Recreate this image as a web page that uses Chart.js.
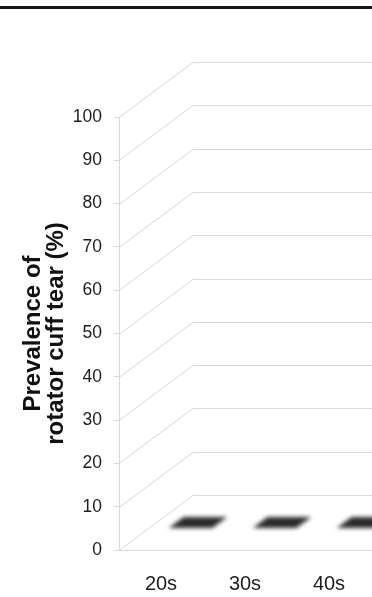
<!DOCTYPE html>
<html>
<head>
<meta charset="utf-8">
<script src="https://cdn.jsdelivr.net/npm/chart.js@4/dist/chart.umd.min.js"></script>
<style>
  html, body { margin: 0; padding: 0; background: #fff; overflow: hidden; }
  #rule { position: absolute; left: 0; top: 6px; width: 372px; height: 3px; background: #151515; }
  canvas { display: block; }
</style>
</head>
<body>
<div id="rule"></div>
<canvas id="chart" width="372" height="597"></canvas>
<script>
// Age groups and prevalence of rotator cuff tear (%)
const ageGroups = ['20s', '30s', '40s'];
const tearPrevalence = [0, 0, 0];
const yAxisTitle = ['Prevalence of', 'rotator cuff tear (%)'];

// Oblique projection used for the pseudo-3D walls and columns
const depth = { dx: 74, dy: -55, front: 0.4, back: 0.6 };
const gridColor = '#d9d9d9';
const columnColor = '#2b2b2b';

const walls3d = {
  id: 'walls3d',
  beforeDatasetsDraw(chart) {
    const { ctx, chartArea: a, scales: { y } } = chart;
    ctx.save();
    ctx.strokeStyle = gridColor;
    ctx.lineWidth = 1;
    ctx.beginPath();
    y.ticks.forEach(t => {
      const py = Math.round(y.getPixelForValue(t.value)) + 0.5;
      ctx.moveTo(a.left, py);
      ctx.lineTo(a.left + depth.dx, py + depth.dy);
      ctx.lineTo(chart.width, py + depth.dy);
    });
    const p0 = Math.round(y.getPixelForValue(0)) + 0.5;
    ctx.moveTo(a.left, p0);
    ctx.lineTo(chart.width, p0);
    ctx.stroke();
    ctx.restore();
  },
  afterDatasetsDraw(chart) {
    const { ctx } = chart;
    const { dx, dy, front, back } = depth;
    ctx.save();
    ctx.filter = 'blur(2px)';
    ctx.fillStyle = columnColor;
    chart.getDatasetMeta(0).data.forEach(bar => {
      const { x, y, base, width } = bar.getProps(['x', 'y', 'base', 'width'], true);
      const l = x - width / 2, r = x + width / 2;
      // front face
      ctx.beginPath();
      ctx.rect(l + front * dx, y + front * dy, width, base - y);
      ctx.fill();
      // right side face
      ctx.beginPath();
      ctx.moveTo(r + front * dx, y + front * dy);
      ctx.lineTo(r + back * dx, y + back * dy);
      ctx.lineTo(r + back * dx, base + back * dy);
      ctx.lineTo(r + front * dx, base + front * dy);
      ctx.closePath();
      ctx.fill();
      // top face
      ctx.beginPath();
      ctx.moveTo(l + front * dx, y + front * dy);
      ctx.lineTo(r + front * dx, y + front * dy);
      ctx.lineTo(r + back * dx, y + back * dy);
      ctx.lineTo(l + back * dx, y + back * dy);
      ctx.closePath();
      ctx.fill();
    });
    ctx.restore();
  }
};

new Chart(document.getElementById('chart'), {
  type: 'bar',
  data: {
    labels: ageGroups,
    datasets: [{
      data: tearPrevalence,
      backgroundColor: 'rgba(0,0,0,0)',
      borderWidth: 0,
      categoryPercentage: 1,
      barPercentage: 0.52
    }]
  },
  options: {
    responsive: false,
    animation: false,
    events: [],
    layout: { padding: { top: 117, right: 1, left: 0, bottom: 0 } },
    plugins: { legend: { display: false }, tooltip: { enabled: false } },
    scales: {
      x: {
        afterFit(scale) { scale.height = 47; },
        grid: { display: false, drawTicks: false },
        border: { display: false },
        ticks: {
          color: '#1e1e1e',
          padding: 22,
          font: { family: 'Liberation Sans, Arial, sans-serif', size: 20 }
        }
      },
      y: {
        min: 0,
        max: 100,
        afterFit(scale) { scale.width = 119; },
        ticks: {
          stepSize: 10,
          color: '#1e1e1e',
          padding: 12,
          font: { family: 'Liberation Sans, Arial, sans-serif', size: 17.5 }
        },
        grid: { drawOnChartArea: false, drawTicks: true, tickLength: 5, color: gridColor },
        border: { display: true, color: gridColor },
        title: {
          display: true,
          text: yAxisTitle,
          color: '#111',
          padding: { top: 22, bottom: 0 },
          font: { family: 'Liberation Sans, Arial, sans-serif', size: 24, weight: 'bold', lineHeight: '23px' }
        }
      }
    }
  },
  plugins: [walls3d]
});
</script>
</body>
</html>
